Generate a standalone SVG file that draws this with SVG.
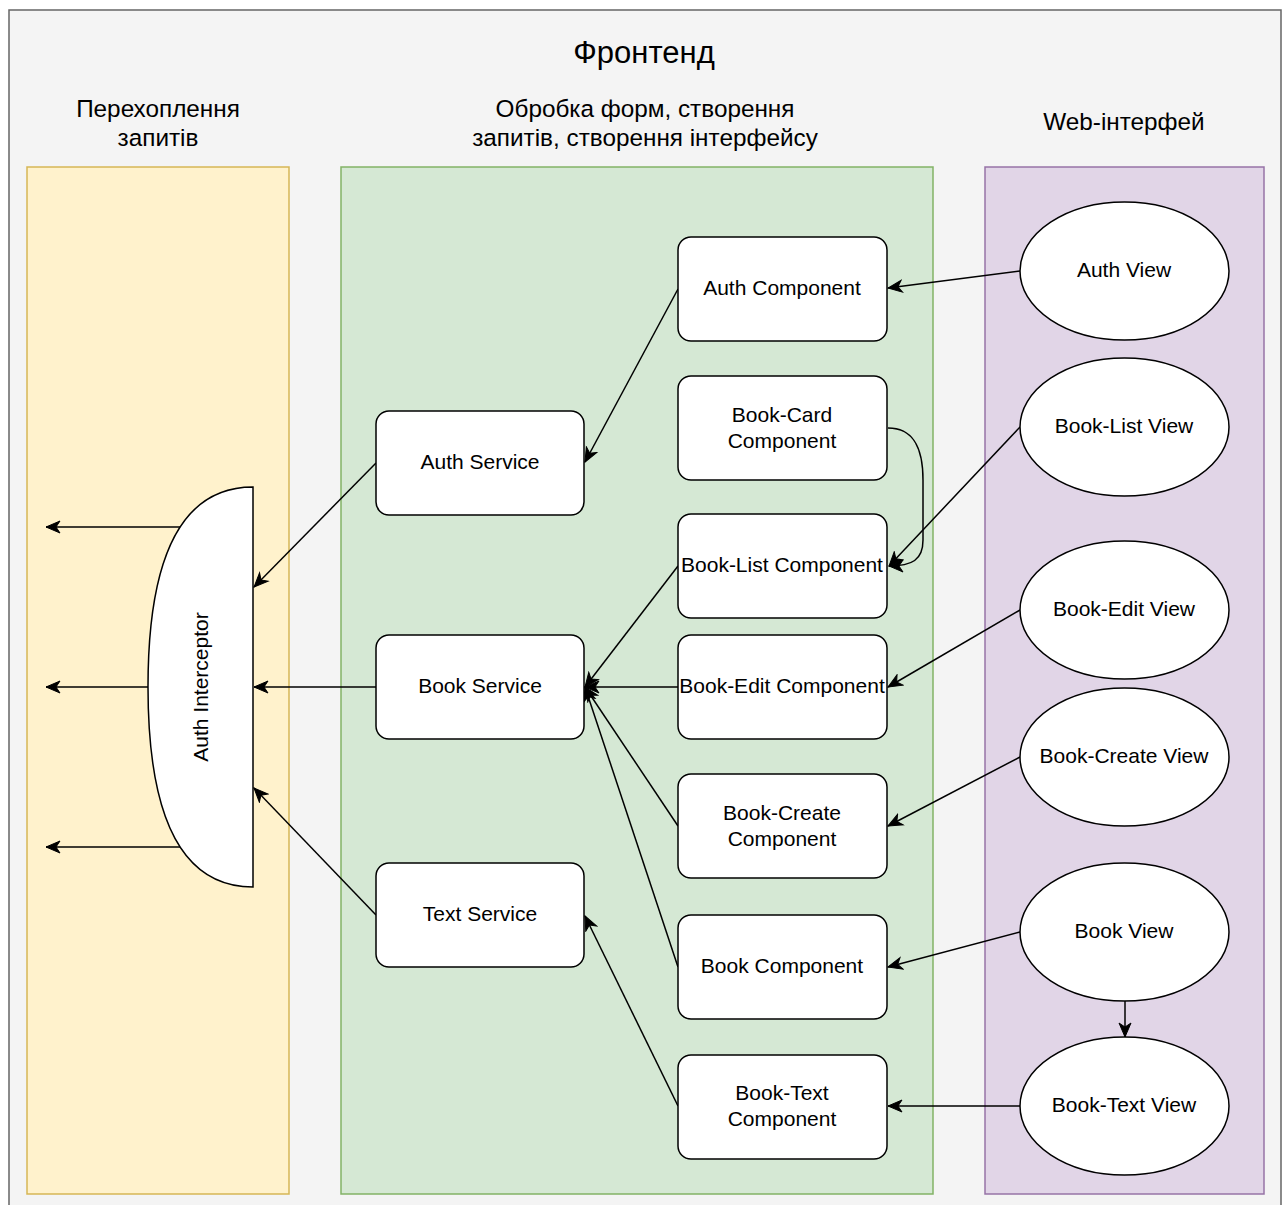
<svg xmlns="http://www.w3.org/2000/svg" width="1288" height="1205" viewBox="0 0 1288 1205">
<style>
  text { font-family: "Liberation Sans", Arial, sans-serif; fill: #000; text-anchor: middle; }
  .title { font-size: 31px; }
  .lane-title { font-size: 24.3px; }
  .lbl { font-size: 21px; }
  .box { fill: #fff; stroke: #000; stroke-width: 1.5; }
  .edge { fill: none; stroke: #000; stroke-width: 1.5; marker-end: url(#arrow); }
</style>
<defs>
  <marker id="arrow" markerUnits="userSpaceOnUse" markerWidth="17" markerHeight="15" viewBox="-15 -7.5 17 15" refX="0" refY="0" orient="auto">
    <path d="M0,0 L-14,-6 L-10,0 L-14,6 Z" fill="#000" stroke="#000" stroke-width="1"/>
  </marker>
</defs>
<rect x="0" y="0" width="1288" height="1205" fill="#fff"/>
<g id="frontend">
  <rect x="9" y="10" width="1272" height="1205" fill="#f4f4f4" stroke="#666" stroke-width="1.5"/>
  <text class="title" x="644" y="63">Фронтенд</text>
</g>
<g id="lane-intercept">
  <rect x="27" y="167" width="262" height="1027" fill="#fff2cc" stroke="#d6b656" stroke-width="1.5"/>
  <text class="lane-title" x="158" y="117">Перехоплення</text>
  <text class="lane-title" x="158" y="146">запитів</text>
</g>
<g id="lane-processing">
  <rect x="341" y="167" width="592" height="1027" fill="#d5e8d4" stroke="#82b366" stroke-width="1.5"/>
  <text class="lane-title" x="645" y="117">Обробка форм, створення</text>
  <text class="lane-title" x="645" y="146">запитів, створення інтерфейсу</text>
</g>
<g id="lane-web">
  <rect x="985" y="167" width="279" height="1027" fill="#e1d5e7" stroke="#9673a6" stroke-width="1.5"/>
  <text class="lane-title" x="1124" y="130">Web-інтерфей</text>
</g>

<g id="connectors">
  <path class="edge" d="M180,527 L46,527"/>
  <path class="edge" d="M148,687 L46,687"/>
  <path class="edge" d="M180,847 L46,847"/>
  <path class="edge" d="M1020,271 L888,288"/>
  <path class="edge" d="M678,289 L585,462"/>
  <path class="edge" d="M888,428 C915,428 923,450 923,480 L923,540 C923,560 912,566 889,566"/>
  <path class="edge" d="M1020,427 L889,566"/>
  <path class="edge" d="M678,566 L585,687"/>
  <path class="edge" d="M1020,610 L888,687"/>
  <path class="edge" d="M678,687 L585,687"/>
  <path class="edge" d="M1020,757 L888,826"/>
  <path class="edge" d="M678,826 L585,687"/>
  <path class="edge" d="M1020,932 L888,967"/>
  <path class="edge" d="M678,967 L585,687"/>
  <path class="edge" d="M1125,1001 L1125,1037"/>
  <path class="edge" d="M1020,1106 L888,1106"/>
  <path class="edge" d="M678,1106 L585,916"/>
  <path class="edge" d="M376,463 L254,587"/>
  <path class="edge" d="M376,687 L254,687"/>
  <path class="edge" d="M376,915 L254,788"/>
</g>

<g id="auth-interceptor">
  <path class="box" d="M253,487 C180,487 148,560 148,687 C148,814 180,887 253,887 Z"/>
  <text class="lbl" transform="translate(208,687) rotate(-90)">Auth Interceptor</text>
</g>

<g id="auth-service">
  <rect class="box" x="376" y="411" width="208" height="104" rx="13"/>
  <text class="lbl" x="480" y="469">Auth Service</text>
</g>
<g id="book-service">
  <rect class="box" x="376" y="635" width="208" height="104" rx="13"/>
  <text class="lbl" x="480" y="693">Book Service</text>
</g>
<g id="text-service">
  <rect class="box" x="376" y="863" width="208" height="104" rx="13"/>
  <text class="lbl" x="480" y="921">Text Service</text>
</g>

<g id="auth-component">
  <rect class="box" x="678" y="237" width="209" height="104" rx="13"/>
  <text class="lbl" x="782" y="295">Auth Component</text>
</g>
<g id="book-card-component">
  <rect class="box" x="678" y="376" width="209" height="104" rx="13"/>
  <text class="lbl" x="782" y="422">Book-Card</text>
  <text class="lbl" x="782" y="448">Component</text>
</g>
<g id="book-list-component">
  <rect class="box" x="678" y="514" width="209" height="104" rx="13"/>
  <text class="lbl" x="782" y="572">Book-List Component</text>
</g>
<g id="book-edit-component">
  <rect class="box" x="678" y="635" width="209" height="104" rx="13"/>
  <text class="lbl" x="782" y="693">Book-Edit Component</text>
</g>
<g id="book-create-component">
  <rect class="box" x="678" y="774" width="209" height="104" rx="13"/>
  <text class="lbl" x="782" y="820">Book-Create</text>
  <text class="lbl" x="782" y="846">Component</text>
</g>
<g id="book-component">
  <rect class="box" x="678" y="915" width="209" height="104" rx="13"/>
  <text class="lbl" x="782" y="973">Book Component</text>
</g>
<g id="book-text-component">
  <rect class="box" x="678" y="1055" width="209" height="104" rx="13"/>
  <text class="lbl" x="782" y="1100">Book-Text</text>
  <text class="lbl" x="782" y="1126">Component</text>
</g>

<g id="auth-view">
  <ellipse class="box" cx="1124.5" cy="271" rx="104.5" ry="69"/>
  <text class="lbl" x="1124" y="277">Auth View</text>
</g>
<g id="book-list-view">
  <ellipse class="box" cx="1124.5" cy="427" rx="104.5" ry="69"/>
  <text class="lbl" x="1124" y="433">Book-List View</text>
</g>
<g id="book-edit-view">
  <ellipse class="box" cx="1124.5" cy="610" rx="104.5" ry="69"/>
  <text class="lbl" x="1124" y="616">Book-Edit View</text>
</g>
<g id="book-create-view">
  <ellipse class="box" cx="1124.5" cy="757" rx="104.5" ry="69"/>
  <text class="lbl" x="1124" y="763">Book-Create View</text>
</g>
<g id="book-view">
  <ellipse class="box" cx="1124.5" cy="932" rx="104.5" ry="69"/>
  <text class="lbl" x="1124" y="938">Book View</text>
</g>
<g id="book-text-view">
  <ellipse class="box" cx="1124.5" cy="1106" rx="104.5" ry="69"/>
  <text class="lbl" x="1124" y="1112">Book-Text View</text>
</g>
</svg>
